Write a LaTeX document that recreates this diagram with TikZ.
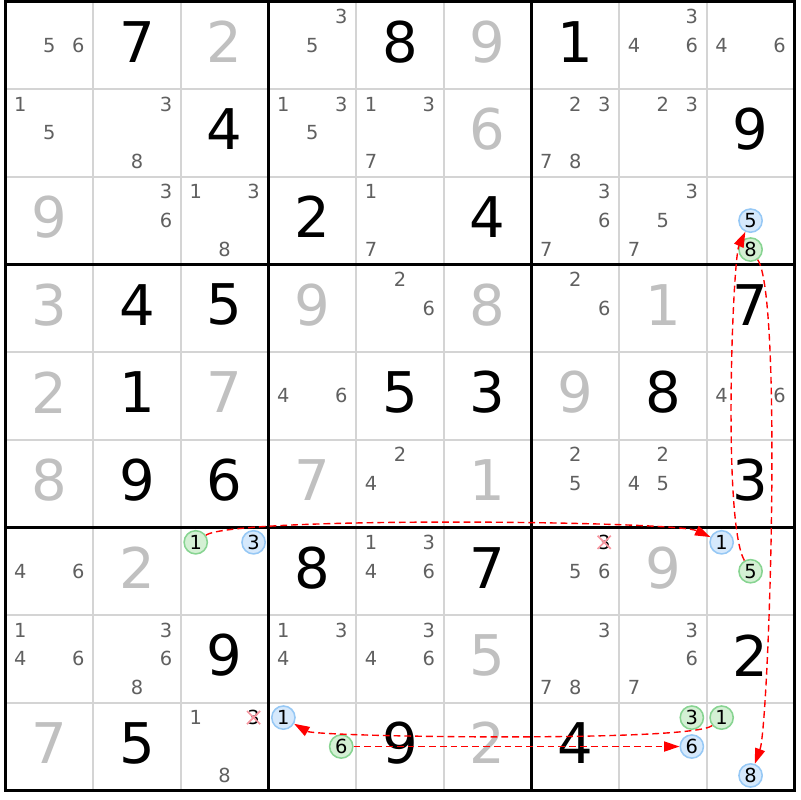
\documentclass[tikz,border=0pt]{standalone}
\usepackage{fontspec}
\setmainfont{DejaVu Sans}
\usetikzlibrary{arrows.meta,calc,positioning}

\definecolor{pencilgray}{RGB}{96,96,96}
\definecolor{solvedgray}{RGB}{192,192,192}
\definecolor{gridgray}{RGB}{212,212,212}
\definecolor{onfill}{RGB}{214,233,252}
\definecolor{ondraw}{RGB}{150,200,245}
\definecolor{offfill}{RGB}{212,240,212}
\definecolor{offdraw}{RGB}{135,212,145}
\definecolor{strikered}{RGB}{248,150,160}

\tikzset{
  given/.style={font=\fontsize{18.2}{18.2}\selectfont, inner sep=0pt, yshift=0.04cm},
  solved/.style={given, text=solvedgray},
  pencil/.style={font=\fontsize{6.3}{6.3}\selectfont, text=pencilgray, inner sep=0pt},
  linkon/.style={circle, draw=ondraw, fill=onfill, line width=0.5pt, minimum size=0.265cm,
    inner sep=0pt, font=\fontsize{6.3}{6.3}\selectfont},
  linkoff/.style={linkon, draw=offdraw, fill=offfill},
  chainarrow/.style={red, line width=0.45pt, dash pattern=on 2.2pt off 1.3pt,
    -{Triangle[length=5pt,width=3.3pt]}},
  struck/.style={strikered, line width=0.55pt},
}

\begin{document}
\begin{tikzpicture}
    \useasboundingbox (-0.063,-0.110) rectangle (9.064,9.017);
    \fill[white] (-0.063,-0.110) rectangle (9.064,9.017);
    % cell lines
    \foreach \i in {1,2,4,5,7,8} {
      \draw[gridgray,line width=0.65pt] (\i,0) -- (\i,9);
      \draw[gridgray,line width=0.65pt] (0,\i) -- (9,\i);
    }
    % box lines
    \foreach \i in {3,6} {
      \draw[line width=1pt] (\i,0) -- (\i,9);
      \draw[line width=1pt] (0,\i) -- (9,\i);
    }
    \draw[line width=1pt] (0,0) rectangle (9,9);
    % givens
    \foreach \r/\c/\d in {1/2/7,1/5/8,1/7/1,2/3/4,2/9/9,3/4/2,3/6/4,4/2/4,4/3/5,4/9/7,
        5/2/1,5/5/5,5/6/3,5/8/8,6/2/9,6/3/6,6/9/3,7/4/8,7/6/7,8/3/9,8/9/2,9/2/5,9/5/9,9/7/4}
      \node[given] (v-\r-\c) at (\c-0.5,9.5-\r) {\d};
    % solved cells
    \foreach \r/\c/\d in {1/3/2,1/6/9,2/6/6,3/1/9,4/1/3,4/4/9,4/6/8,4/8/1,5/1/2,5/3/7,
        5/7/9,6/1/8,6/4/7,6/6/1,7/2/2,7/8/9,8/6/5,9/1/7,9/6/2}
      \node[solved] (v-\r-\c) at (\c-0.5,9.5-\r) {\d};
    % candidates
    \foreach \r/\c/\ds in {1/1/{5,6},1/4/{3,5},1/8/{3,4,6},1/9/{4,6},
        2/1/{1,5},2/2/{3,8},2/4/{1,3,5},2/5/{1,3,7},2/7/{2,3,7,8},2/8/{2,3},
        3/2/{3,6},3/3/{1,3,8},3/5/{1,7},3/7/{3,6,7},3/8/{3,5,7},
        4/5/{2,6},4/7/{2,6},5/4/{4,6},5/9/{4,6},6/5/{2,4},6/7/{2,5},6/8/{2,4,5},
        7/1/{4,6},7/5/{1,3,4,6},7/7/{5,6},
        8/1/{1,4,6},8/2/{3,6,8},8/4/{1,3,4},8/5/{3,4,6},8/7/{3,7,8},8/8/{3,6,7},
        9/3/{1,8}}
      \foreach \d in \ds
        \node[pencil] (p-\r-\c-\d) at ({\c-0.83+0.33*mod(\d-1,3)},{9.83-\r-0.33*int((\d-1)/3)}) {\d};
    % eliminated candidates
    \foreach \r/\c in {7/7,9/3} {
      \node[pencil,text=black] (p-\r-\c-3) at (\c-0.17,9.83-\r) {3};
      \draw[struck] (p-\r-\c-3.center) +(-0.075,-0.075) -- +(0.075,0.075)
        +(-0.075,0.075) -- +(0.075,-0.075);
    }
    % chain candidates
    \foreach \r/\c/\d in {3/9/5,7/3/3,7/9/1,9/4/1,9/8/6,9/9/8}
      \node[linkon] (m-\r-\c-\d) at ({\c-0.83+0.33*mod(\d-1,3)},{9.83-\r-0.33*int((\d-1)/3)}) {\d};
    \foreach \r/\c/\d in {3/9/8,7/3/1,7/9/5,9/4/6,9/8/3,9/9/1}
      \node[linkoff] (m-\r-\c-\d) at ({\c-0.83+0.33*mod(\d-1,3)},{9.83-\r-0.33*int((\d-1)/3)}) {\d};
    % chain
    \draw[chainarrow] (m-7-3-1) to[out=35,in=155,out distance=0.38cm,in distance=0.44cm] (m-7-9-1);
    \draw[chainarrow] (m-7-9-5) to[out=120,in=245,out distance=0.5cm,in distance=0.34cm] (m-3-9-5);
    \draw[chainarrow] (m-3-9-8) to[out=-55,in=70,out distance=0.5cm,in distance=0.47cm] (m-9-9-8);
    \draw[chainarrow] (m-9-9-1) to[out=220,in=-30,out distance=0.3cm,in distance=0.3cm] (m-9-4-1);
    \draw[chainarrow] (m-9-4-6) -- (m-9-8-6);
\end{tikzpicture}
\end{document}
